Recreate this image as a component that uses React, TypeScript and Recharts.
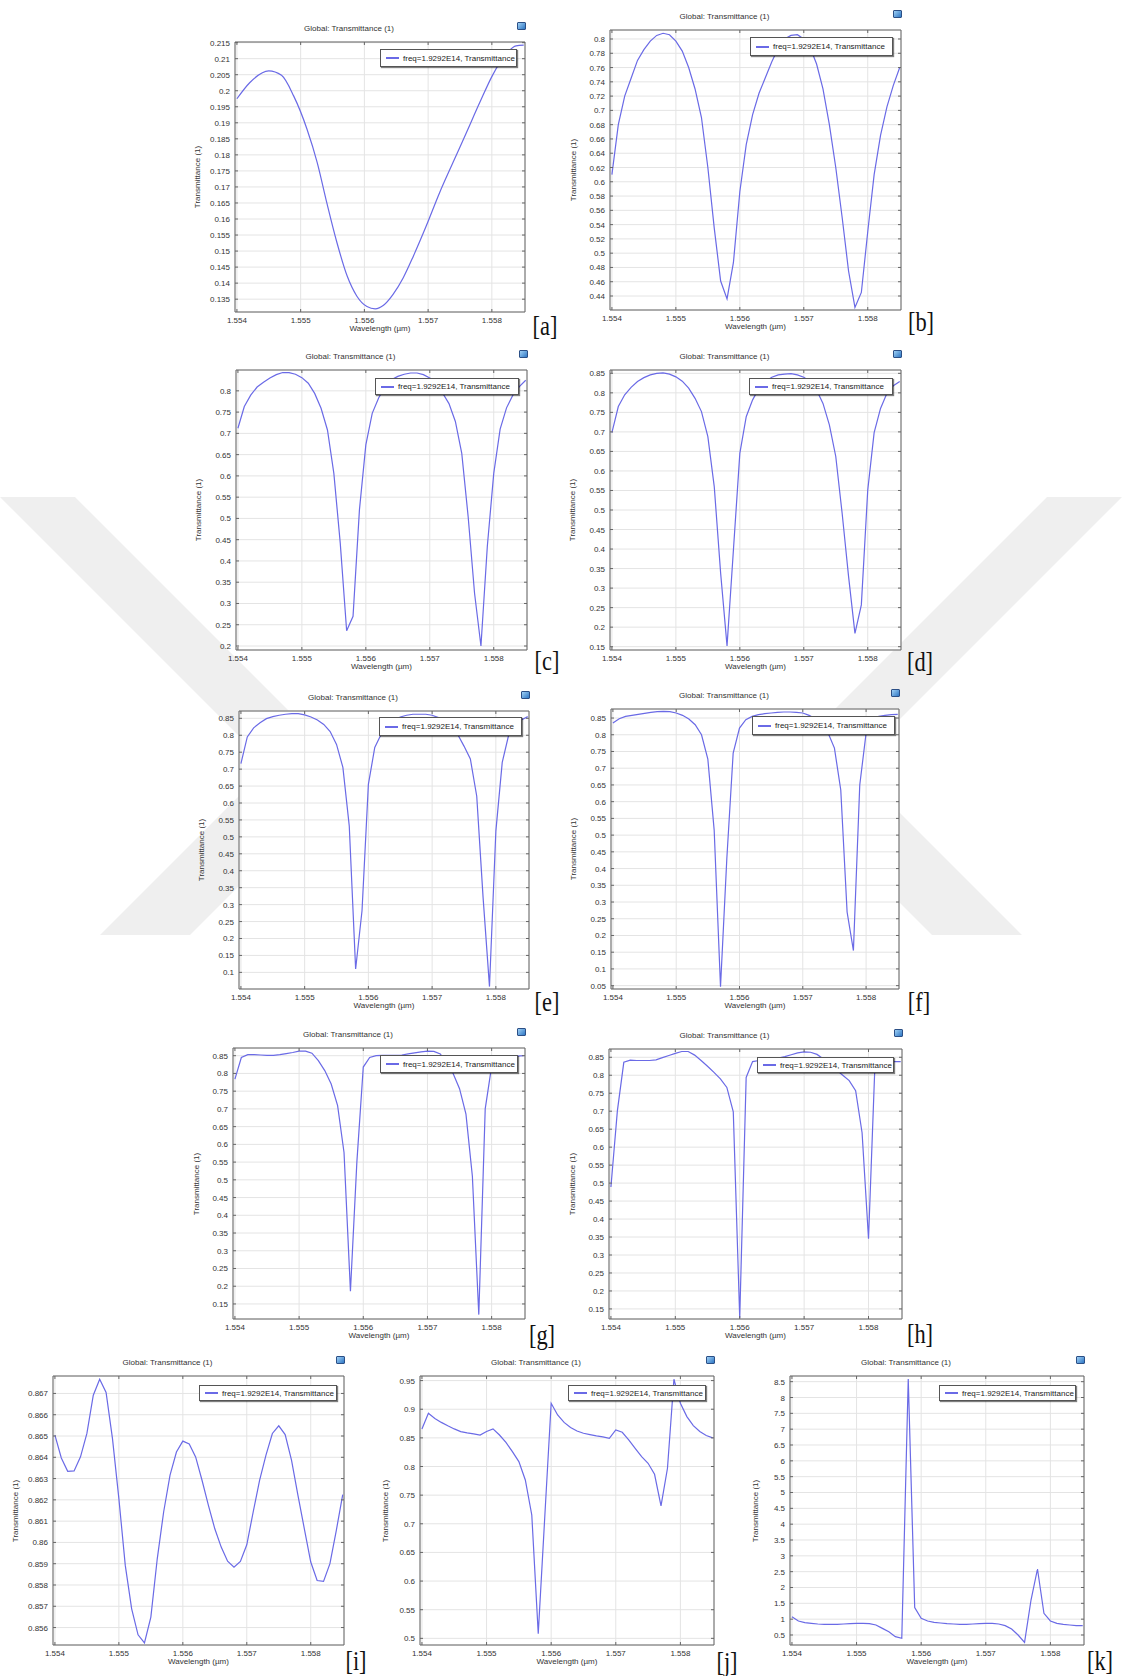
import React from "react";
import {
  CartesianGrid,
  Legend,
  Line,
  LineChart,
  ReferenceArea,
  XAxis,
  YAxis,
} from "recharts";

// sweep points, 0.1 nm apart (µm)
const wavelength = [
  1.554, 1.5541, 1.5542, 1.5543, 1.5544, 1.5545, 1.5546, 1.5547, 1.5548, 1.5549,
  1.555, 1.5551, 1.5552, 1.5553, 1.5554, 1.5555, 1.5556, 1.5557, 1.5558, 1.5559,
  1.556, 1.5561, 1.5562, 1.5563, 1.5564, 1.5565, 1.5566, 1.5567, 1.5568, 1.5569,
  1.557, 1.5571, 1.5572, 1.5573, 1.5574, 1.5575, 1.5576, 1.5577, 1.5578, 1.5579,
  1.558, 1.5581, 1.5582, 1.5583, 1.5584, 1.5585,
];

const wlA = [
  1.554, 1.5542, 1.5545, 1.5547, 1.55489, 1.5551, 1.55526, 1.55541, 1.55557,
  1.55573, 1.55588, 1.55604, 1.55617, 1.5563, 1.55645, 1.55661, 1.55677, 1.55697,
  1.55718, 1.55739, 1.5576, 1.55781, 1.55801, 1.55822, 1.55838, 1.5585,
];
const transA = [
  0.1975, 0.2025, 0.2062, 0.2048, 0.1984, 0.188, 0.1776, 0.1651, 0.1526, 0.1422,
  0.136, 0.1327, 0.132, 0.1331, 0.1365, 0.1417, 0.1485, 0.1578, 0.1682, 0.1776,
  0.1869, 0.1963, 0.2048, 0.2114, 0.214, 0.2142,
];

const transB = [
  0.61, 0.68, 0.72, 0.745, 0.77, 0.785, 0.797, 0.805, 0.808, 0.806,
  0.797, 0.783, 0.76, 0.73, 0.69, 0.62, 0.535, 0.461, 0.436, 0.487,
  0.586, 0.652, 0.694, 0.724, 0.746, 0.768, 0.787, 0.8, 0.805, 0.806,
  0.8, 0.788, 0.765, 0.73, 0.68, 0.62, 0.55, 0.475, 0.424, 0.445,
  0.53, 0.61, 0.665, 0.705, 0.735, 0.76,
];

const transC = [
  0.712, 0.763, 0.79, 0.809, 0.82, 0.83, 0.838, 0.843, 0.843, 0.839,
  0.831, 0.818, 0.794, 0.759, 0.708, 0.606, 0.442, 0.236, 0.27, 0.52,
  0.673, 0.747, 0.783, 0.81, 0.826, 0.834, 0.839, 0.842, 0.842, 0.838,
  0.83, 0.822, 0.795, 0.77, 0.728, 0.653, 0.504, 0.324, 0.2, 0.435,
  0.606, 0.71, 0.76, 0.79, 0.81, 0.825,
];

const transD = [
  0.698, 0.765, 0.795, 0.814, 0.829, 0.839, 0.846, 0.85, 0.851, 0.848,
  0.841, 0.83, 0.812, 0.786, 0.752, 0.688, 0.56, 0.338, 0.152, 0.398,
  0.645, 0.739, 0.782, 0.812, 0.829, 0.84, 0.846, 0.848, 0.849, 0.846,
  0.84, 0.829, 0.807, 0.773, 0.718, 0.637, 0.491, 0.33, 0.184, 0.257,
  0.551, 0.698, 0.76, 0.799, 0.818, 0.829,
];

const transE = [
  0.716, 0.795, 0.822, 0.837, 0.849, 0.855, 0.859, 0.862, 0.864, 0.864,
  0.86, 0.854, 0.845, 0.832, 0.811, 0.773, 0.705, 0.532, 0.11, 0.282,
  0.655, 0.764, 0.803, 0.827, 0.844, 0.854, 0.859, 0.862, 0.862, 0.862,
  0.859, 0.852, 0.84, 0.824, 0.803, 0.768, 0.73, 0.62, 0.32, 0.058,
  0.517, 0.72, 0.8, 0.83, 0.845, 0.855,
];

const transF = [
  0.835, 0.848, 0.855, 0.858, 0.861, 0.864, 0.867, 0.869, 0.87, 0.869,
  0.865, 0.858, 0.847, 0.83, 0.8, 0.727, 0.515, 0.047, 0.43, 0.745,
  0.82, 0.845, 0.855, 0.86, 0.863, 0.865, 0.867, 0.868, 0.868, 0.867,
  0.865, 0.858, 0.848, 0.835, 0.805, 0.76, 0.635, 0.27, 0.155, 0.65,
  0.805, 0.845, 0.855, 0.858, 0.86, 0.861,
];

const transG = [
  0.784, 0.845, 0.853, 0.853, 0.852, 0.851, 0.851, 0.853, 0.856, 0.859,
  0.863, 0.863, 0.857, 0.836, 0.808, 0.77, 0.709, 0.577, 0.186, 0.55,
  0.818, 0.845, 0.85, 0.851, 0.851, 0.851, 0.852, 0.855, 0.858, 0.861,
  0.863, 0.862, 0.855, 0.83, 0.8, 0.757, 0.685, 0.51, 0.12, 0.7,
  0.82, 0.845, 0.85, 0.85, 0.849, 0.85,
];

const transH = [
  0.489, 0.701, 0.836, 0.842, 0.841, 0.841, 0.841, 0.843, 0.849, 0.855,
  0.861, 0.866, 0.866, 0.856, 0.841, 0.825, 0.808, 0.79, 0.766, 0.698,
  0.125, 0.794, 0.838, 0.841, 0.843, 0.845, 0.848, 0.852, 0.857, 0.862,
  0.865, 0.864, 0.858, 0.845, 0.83, 0.815, 0.8, 0.785, 0.757, 0.64,
  0.345, 0.83, 0.838, 0.838, 0.838, 0.838,
];

const transI = [
  0.86504, 0.86397, 0.86334, 0.86336, 0.86402, 0.86512, 0.86692, 0.86767, 0.86705, 0.86488,
  0.86206, 0.85892, 0.85688, 0.85566, 0.85528, 0.85649, 0.85923, 0.86143, 0.86316, 0.86425,
  0.86476, 0.86463, 0.86402, 0.86292, 0.86174, 0.86064, 0.85978, 0.85912, 0.85884, 0.85911,
  0.85989, 0.86143, 0.86292, 0.8641, 0.86512, 0.86548, 0.86507, 0.86386, 0.86221, 0.86064,
  0.85908, 0.85821, 0.85817, 0.859, 0.86057, 0.86225,
];

const transJ = [
  0.8656, 0.893, 0.884, 0.877, 0.871, 0.8656, 0.861, 0.8586, 0.8569, 0.855,
  0.861, 0.8656, 0.855, 0.842, 0.826, 0.8085, 0.7765, 0.7154, 0.508, 0.71,
  0.9104, 0.89, 0.877, 0.868, 0.862, 0.858, 0.8557, 0.8534, 0.8516, 0.8493,
  0.8638, 0.8598, 0.8464, 0.8318, 0.8173, 0.8057, 0.7864, 0.7311, 0.7969, 0.9523,
  0.9104, 0.8871, 0.8714, 0.861, 0.854, 0.85,
];

const transK = [
  1.079, 0.94, 0.89, 0.868, 0.847, 0.837, 0.837, 0.837, 0.847, 0.858,
  0.868, 0.868, 0.858, 0.816, 0.71, 0.605, 0.447, 0.395, 8.584, 1.363,
  1.026, 0.942, 0.9, 0.879, 0.858, 0.847, 0.837, 0.837, 0.847, 0.858,
  0.868, 0.868, 0.847, 0.795, 0.689, 0.5, 0.268, 1.605, 2.584, 1.184,
  0.942, 0.868, 0.837, 0.816, 0.795, 0.795,
];

// tick labels
const wlTicks = [1.554, 1.555, 1.556, 1.557, 1.558];
const ticksA = [0.135, 0.14, 0.145, 0.15, 0.155, 0.16, 0.165, 0.17, 0.175, 0.18, 0.185, 0.19, 0.195, 0.2, 0.205, 0.21, 0.215];
const ticksB = [0.44, 0.46, 0.48, 0.5, 0.52, 0.54, 0.56, 0.58, 0.6, 0.62, 0.64, 0.66, 0.68, 0.7, 0.72, 0.74, 0.76, 0.78, 0.8];
const ticksC = [0.2, 0.25, 0.3, 0.35, 0.4, 0.45, 0.5, 0.55, 0.6, 0.65, 0.7, 0.75, 0.8];
const ticksD = [0.15, 0.2, 0.25, 0.3, 0.35, 0.4, 0.45, 0.5, 0.55, 0.6, 0.65, 0.7, 0.75, 0.8, 0.85];
const ticksE = [0.1, 0.15, 0.2, 0.25, 0.3, 0.35, 0.4, 0.45, 0.5, 0.55, 0.6, 0.65, 0.7, 0.75, 0.8, 0.85];
const ticksF = [0.05, 0.1, 0.15, 0.2, 0.25, 0.3, 0.35, 0.4, 0.45, 0.5, 0.55, 0.6, 0.65, 0.7, 0.75, 0.8, 0.85];
const ticksI = [0.856, 0.857, 0.858, 0.859, 0.86, 0.861, 0.862, 0.863, 0.864, 0.865, 0.866, 0.867];
const ticksJ = [0.5, 0.55, 0.6, 0.65, 0.7, 0.75, 0.8, 0.85, 0.9, 0.95];
const ticksK = [0.5, 1, 1.5, 2, 2.5, 3, 3.5, 4, 4.5, 5, 5.5, 6, 6.5, 7, 7.5, 8, 8.5];

const WL_DOMAIN: [number, number] = [1.55397, 1.55852];
const CURVE = "#6a6ae6";
const AXIS = "#666";
const TEXT = "#333";
const SANS = '"Liberation Sans", Arial, sans-serif';
// room around each plot frame; axes take 1px each (a 0px axis is not drawn)
const PAD = { l: 40, t: 6, r: 6, b: 26 };

type Spec = {
  tag: string;
  wl: number[];
  t: number[];
  yDomain: [number, number];
  yTicks: number[];
  frame: [number, number, number, number];
  legend: [number, number, number, number];
  yLabelX: number;
  letter: [number, number];
  smooth?: boolean;
};

const panels: Spec[] = [
  { tag: "a", wl: wlA, t: transA, yDomain: [0.131, 0.2152], yTicks: ticksA, frame: [235, 42, 525, 312], legend: [380, 49, 517, 67], yLabelX: 198, letter: [545, 327], smooth: true },
  { tag: "b", wl: wavelength, t: transB, yDomain: [0.4204, 0.8126], yTicks: ticksB, frame: [610, 30, 901, 310], legend: [750, 37, 893, 56], yLabelX: 574, letter: [921, 323] },
  { tag: "c", wl: wavelength, t: transC, yDomain: [0.1906, 0.849], yTicks: ticksC, frame: [236, 370, 527, 650], legend: [375, 378, 519, 395], yLabelX: 199, letter: [547, 662] },
  { tag: "d", wl: wavelength, t: transD, yDomain: [0.1415, 0.8585], yTicks: ticksD, frame: [610, 370, 901, 650], legend: [749, 378, 893, 395], yLabelX: 573, letter: [920, 663] },
  { tag: "e", wl: wavelength, t: transE, yDomain: [0.0509, 0.8716], yTicks: ticksE, frame: [239, 711, 529, 989], legend: [379, 717, 522, 736], yLabelX: 202, letter: [547, 1003] },
  { tag: "f", wl: wavelength, t: transF, yDomain: [0.04, 0.877], yTicks: ticksF, frame: [611, 709, 899, 989], legend: [752, 716, 895, 735], yLabelX: 574, letter: [919, 1003] },
  { tag: "g", wl: wavelength, t: transG, yDomain: [0.1076, 0.8717], yTicks: ticksD, frame: [233, 1048, 525, 1319], legend: [380, 1055, 518, 1073], yLabelX: 197, letter: [542, 1336] },
  { tag: "h", wl: wavelength, t: transH, yDomain: [0.122, 0.873], yTicks: ticksD, frame: [609, 1049, 902, 1319], legend: [757, 1057, 894, 1073], yLabelX: 573, letter: [920, 1335] },
  { tag: "i", wl: wavelength, t: transI, yDomain: [0.85518, 0.86782], yTicks: ticksI, frame: [53, 1376, 344, 1645], legend: [199, 1385, 337, 1401], yLabelX: 16, letter: [356, 1662] },
  { tag: "j", wl: wavelength, t: transJ, yDomain: [0.4884, 0.958], yTicks: ticksJ, frame: [420, 1376, 714, 1645], legend: [568, 1385, 706, 1401], yLabelX: 386, letter: [727, 1663] },
  { tag: "k", wl: wavelength, t: transK, yDomain: [0.184, 8.679], yTicks: ticksK, frame: [790, 1376, 1084, 1645], legend: [939, 1385, 1076, 1401], yLabelX: 756, letter: [1100, 1662] },
];

// faint page watermark behind the plots (two opposing chevrons)
const watermark = [
  "0,497 75,497 351.5,773.5 190,935 100,935 269,766",
  "1122,497 1047,497 770.5,773.5 932,935 1022,935 853,766",
];

// COMSOL-style ticks: label outside, short marks inside on both opposite edges
const YTick = (props: any) => {
  const { x, y, payload, w } = props;
  return (
    <g>
      <line x1={x} x2={x + 3} y1={y} y2={y} stroke={AXIS} />
      <line x1={x + w - 3} x2={x + w} y1={y} y2={y} stroke={AXIS} />
      <text x={x - 5} y={y + 3} textAnchor="end" fontSize={8} fontFamily={SANS} fill={TEXT}>
        {payload.value}
      </text>
    </g>
  );
};

const XTick = (props: any) => {
  const { x, y, payload, h } = props;
  return (
    <g>
      <line x1={x} x2={x} y1={y} y2={y - 3} stroke={AXIS} />
      <line x1={x} x2={x} y1={y - h} y2={y - h + 3} stroke={AXIS} />
      <text x={x} y={y + 11} textAnchor="middle" fontSize={8} fontFamily={SANS} fill={TEXT}>
        {payload.value}
      </text>
    </g>
  );
};

const LegendBox = () => (
  <div
    style={{
      boxSizing: "border-box",
      width: "100%",
      height: "100%",
      border: "1px solid #555",
      background: "#fff",
      boxShadow: "1px 1px 1px rgba(0,0,0,0.5)",
      display: "flex",
      alignItems: "center",
      fontSize: 8,
      fontFamily: SANS,
      color: "#222",
      whiteSpace: "nowrap",
    }}
  >
    <span style={{ display: "inline-block", width: 13, height: 2, background: CURVE, marginLeft: 5, marginRight: 4 }} />
    freq=1.9292E14, Transmittance
  </div>
);

const Panel = ({ p }: { p: Spec }) => {
  const [L, T, R, B] = p.frame;
  const w = R - L;
  const h = B - T;
  const ox = L - PAD.l;
  const oy = T - PAD.t;
  const rows = p.wl.map((x, i) => ({ wl: x, t: p.t[i] }));
  const [lx0, ly0, lx1, ly1] = p.legend;
  const cx = (L + R) / 2;
  return (
    <>
      <div style={{ position: "absolute", left: L, top: T, width: w, height: h, background: "#fff" }} />
      <div style={{ position: "absolute", left: ox, top: oy }}>
        <LineChart
          width={w + PAD.l + PAD.r}
          height={h + PAD.t + PAD.b}
          data={rows}
          margin={{ top: PAD.t, right: PAD.r, bottom: PAD.b - 1, left: PAD.l - 1 }}
        >
          <CartesianGrid stroke="#e4e4e4" />
          <XAxis
            type="number"
            dataKey="wl"
            domain={WL_DOMAIN}
            ticks={wlTicks}
            allowDataOverflow
            interval={0}
            height={1}
            tickSize={0}
            tickMargin={0}
            axisLine={false}
            tickLine={false}
            tick={<XTick h={h} />}
          />
          <YAxis
            type="number"
            domain={p.yDomain}
            ticks={p.yTicks}
            allowDataOverflow
            interval={0}
            width={1}
            tickSize={0}
            tickMargin={0}
            axisLine={false}
            tickLine={false}
            tick={<YTick w={w} />}
          />
          <ReferenceArea
            x1={WL_DOMAIN[0]}
            x2={WL_DOMAIN[1]}
            y1={p.yDomain[0]}
            y2={p.yDomain[1]}
            fill="none"
            stroke={AXIS}
            ifOverflow="visible"
          />
          <Line
            type={p.smooth ? "monotone" : "linear"}
            dataKey="t"
            stroke={CURVE}
            strokeWidth={1.2}
            dot={false}
            isAnimationActive={false}
          />
          <Legend
            layout="horizontal"
            verticalAlign="middle"
            align="center"
            wrapperStyle={{ left: lx0 - ox, top: ly0 - oy, width: lx1 - lx0, height: ly1 - ly0, right: "auto", bottom: "auto" }}
            content={() => <LegendBox />}
          />
        </LineChart>
      </div>
      <div style={{ position: "absolute", left: cx - 31 - 80, top: T - 18, width: 160, textAlign: "center", fontSize: 8, lineHeight: "10px", color: TEXT }}>
        Global: Transmittance (1)
      </div>
      <div style={{ position: "absolute", left: R - 8, top: T - 20, width: 7, height: 6, borderRadius: 1, border: "1px solid #2b4f86", background: "linear-gradient(135deg,#9fd0f5,#2f77c4)" }} />
      <div style={{ position: "absolute", left: cx - 60, top: B + 12, width: 120, textAlign: "center", fontSize: 8, lineHeight: "10px", color: TEXT }}>
        Wavelength (µm)
      </div>
      <div
        style={{
          position: "absolute",
          left: p.yLabelX - 50,
          top: (T + B) / 2 - 5,
          width: 100,
          textAlign: "center",
          fontSize: 8,
          lineHeight: "10px",
          color: TEXT,
          transform: "rotate(-90deg)",
        }}
      >
        Transmittance (1)
      </div>
      <div
        style={{
          position: "absolute",
          left: p.letter[0] - 30,
          top: p.letter[1] - 16,
          width: 60,
          textAlign: "center",
          fontFamily: '"Liberation Serif", "DejaVu Serif", serif',
          fontSize: 28,
          lineHeight: "30px",
          color: "#111",
          transform: "scaleX(0.8)",
        }}
      >
        [{p.tag}]
      </div>
    </>
  );
};

export default function App() {
  return (
    <div
      style={{
        position: "absolute",
        left: 0,
        top: 0,
        width: 1123,
        height: 1676,
        overflow: "hidden",
        background: "#fff",
        fontFamily: SANS,
      }}
    >
      <svg width={1123} height={1676} style={{ position: "absolute", left: 0, top: 0 }}>
        {watermark.map((pts, i) => (
          <polygon key={i} points={pts} fill="#efefef" />
        ))}
      </svg>
      {panels.map((p) => (
        <Panel key={p.tag} p={p} />
      ))}
    </div>
  );
}
